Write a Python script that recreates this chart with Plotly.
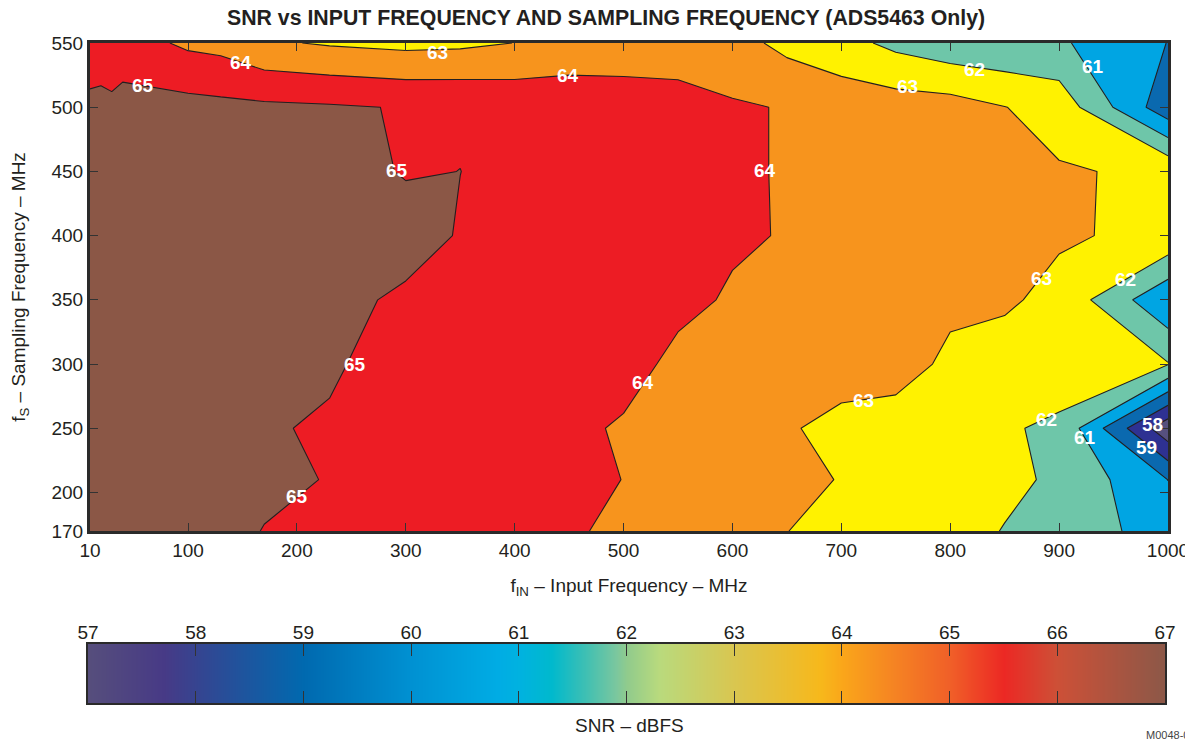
import plotly.graph_objects as go

# ---------------- data ----------------
fin_mhz = [10, 20, 30, 40, 100, 130, 170, 230, 300, 350, 400, 450, 500, 550,
           600, 650, 700, 750, 800, 850, 900, 1000]
fs_mhz = [170, 210, 250, 300, 350, 400, 450, 500, 550]

snr_fs170 = [65.6, 65.6, 65.6, 65.6, 65.45, 65.3, 64.97, 64.77, 64.55, 64.38, 64.22,
             64.06, 63.9, 63.65, 63.4, 63.01, 62.75, 62.5, 62.28, 61.97, 61.75, 60.45]
snr_fs210 = [65.6, 65.6, 65.6, 65.6, 65.5, 65.35, 65.2, 64.96, 64.7, 64.5, 64.35,
             64.2, 63.99, 63.75, 63.5, 63.25, 62.96, 62.75, 62.5, 62.16, 61.885, 59.99]
snr_fs250 = [65.6, 65.6, 65.6, 65.6, 65.45, 65.3, 65.12, 64.85, 64.7, 64.55, 64.4,
             64.2, 63.9, 63.6, 63.35, 63.07, 62.8, 62.55, 62.3, 62.1, 61.83, 57.3]
snr_fs300 = [65.7, 65.7, 65.7, 65.7, 65.6, 65.45, 65.3, 65.17, 64.43, 64.42, 64.4,
             64.37, 64.33, 63.79, 63.65, 63.45, 63.31, 63.415, 62.8, 62.6, 62.5, 62.05]
snr_fs350 = [65.7, 65.7, 65.7, 65.7, 65.6, 65.5, 65.4, 65.3, 64.825, 64.65, 64.5,
             64.4, 64.3, 64.21, 63.91, 63.7, 63.55, 63.4, 63.2, 63.13, 62.75, 60.16]
snr_fs400 = [65.7, 65.7, 65.7, 65.7, 65.7, 65.65, 65.6, 65.5, 65.42, 64.93, 64.7,
             64.5, 64.35, 64.25, 64.106, 63.955, 63.8, 63.6, 63.45, 63.3, 63.1, 62.79]
snr_fs450 = [65.6, 65.6, 65.6, 65.6, 65.6, 65.55, 65.5, 65.4, 64.93, 65.005, 64.75,
             64.5, 64.35, 64.2, 64.1, 63.95, 63.8, 63.6, 63.45, 63.3, 63.08, 62.85]
snr_fs500 = [65.2, 65.25, 65.16, 65.34, 65.33, 65.25, 65.18, 65.1, 64.95, 64.9, 64.75,
             64.6, 64.45, 64.3, 64.1, 63.95, 63.6, 63.5, 63.42, 63.02, 62.62, 59.34]
snr_fs550 = [64.5, 64.5, 64.5, 64.47, 63.82, 63.69, 63.14, 62.9, 62.74, 62.81, 63.01,
             63.4, 63.51, 63.6, 63.386, 62.72, 62.35, 61.75, 61.33, 61.18, 61.13, 59.98]

snr_rows = [snr_fs170, snr_fs210, snr_fs250, snr_fs300, snr_fs350,
            snr_fs400, snr_fs450, snr_fs500, snr_fs550]

x_ticks = [10, 100, 200, 300, 400, 500, 600, 700, 800, 900, 1000]
y_ticks = [170, 200, 250, 300, 350, 400, 450, 500, 550]
bar_ticks = [57, 58, 59, 60, 61, 62, 63, 64, 65, 66, 67]

# contour labels (text, fin, fs)
label_text = ["65", "64", "63", "64", "63", "62", "61", "65", "64", "65", "64",
              "63", "62", "63", "62", "61", "58", "59", "65"]
label_fin = [58.7, 148.7, 328.7, 449, 761, 822.7, 931, 292, 630, 253, 518,
             883.4, 961.4, 720, 888, 923.8, 986, 980.7, 200]
label_fs = [516.6, 534.5, 542.3, 524.4, 515.8, 529, 531.4, 450.4, 450.4, 299.3, 285.3,
            366.3, 365.5, 272, 257, 243.2, 252.6, 235.4, 196.5]

# ---------------- styles / layout geometry ----------------
FONT = "Liberation Sans, Arial, sans-serif"
TXT = "#231F20"
OFF = 8                      # page body margin of the html page
W, H = 1193 - OFF, 740 - OFF
ML, MR, MT, MB = 88 - OFF, 25, 43 - OFF, 37
PW, PH = W - ML - MR, H - MT - MB


def px_x(p):  # screen pixel column -> paper x
    return (p - OFF - ML) / PW


def px_y(p):  # screen pixel row -> paper y
    return (H - MB - (p - OFF)) / PH


# fill colour of each 1-dB band (index k -> band [56+k, 57+k])
band_colors = ['#4F4A7A', '#56507E', '#2E3192', '#0A69AF', '#00A5E3', '#6EC6A9',
               '#FFF200', '#F7941D', '#ED1C24', '#8B5746', '#8B5746']
fill_scale = [[i / 10, c] for i, c in enumerate(band_colors)]

bar_scale = [
    [0.00, '#564E7C'], [0.07, '#473A86'], [0.10, '#364490'], [0.20, '#0069AF'],
    [0.30, '#0091D2'], [0.38, '#00ACE4'], [0.40, '#00B2E0'], [0.43, '#00B9CD'],
    [0.46, '#3CBFB4'], [0.49, '#7BC79E'], [0.50, '#91CB8C'], [0.53, '#B9DA7D'],
    [0.60, '#D9C650'], [0.68, '#F7B81B'], [0.70, '#FAA61A'], [0.75, '#F58223'],
    [0.80, '#F05F28'], [0.85, '#EC2824'], [0.90, '#CD5037'], [1.00, '#8C5848'],
]

fig = go.Figure()

fig.add_trace(go.Contour(
    x=fin_mhz, y=fs_mhz, z=snr_rows,
    autocontour=False,
    contours=dict(start=57, end=66, size=1, coloring='fill', showlabels=False),
    colorscale=fill_scale, showscale=False,
    line=dict(color=TXT, width=1.1, smoothing=0),
    hoverinfo='skip', xaxis='x', yaxis='y',
))

# colour bar drawn as a smooth heat strip on its own axes
fig.add_trace(go.Heatmap(
    x=bar_ticks, y=[0, 1], z=[bar_ticks, bar_ticks], zmin=57, zmax=67,
    colorscale=bar_scale, zsmooth='best', showscale=False, hoverinfo='skip',
    xaxis='x2', yaxis='y2',
))

for t, xv, yv in zip(label_text, label_fin, label_fs):
    fig.add_annotation(x=xv, y=yv, xref='x', yref='y', text="<b>%s</b>" % t,
                       showarrow=False,
                       font=dict(family=FONT, size=19, color='white'),
                       xanchor='center', yanchor='middle')

fig.add_annotation(text="SNR – dBFS", xref='paper', yref='paper',
                   x=px_x(629), y=px_y(725), xanchor='center', yanchor='middle',
                   showarrow=False, font=dict(family=FONT, size=19, color=TXT))

fig.add_annotation(text="M0048-05", xref='paper', yref='paper',
                   x=px_x(1144), y=px_y(735), xanchor='left', yanchor='middle',
                   showarrow=False, font=dict(family=FONT, size=11, color='#444444'))

axis_common = dict(
    ticks='inside', ticklen=8, tickwidth=1.2, tickcolor='#333333',
    showline=True, linewidth=3, linecolor='#2A2A2A', mirror='ticks',
    showgrid=False, zeroline=False, automargin=False,
    tickfont=dict(family=FONT, size=19, color=TXT),
)

fig.update_layout(
    width=W, height=H, autosize=False,
    margin=dict(l=ML, r=MR, t=MT, b=MB),
    paper_bgcolor='white', plot_bgcolor='white',
    font=dict(family=FONT, size=19, color=TXT),
    title=dict(text="<b>SNR vs INPUT FREQUENCY AND SAMPLING FREQUENCY (ADS5463 Only)</b>",
               x=(606 - OFF) / W, xanchor='center', xref='container',
               y=1 - (18 - OFF) / H, yanchor='middle', yref='container',
               font=dict(family=FONT, size=21.3, color=TXT)),
    xaxis=dict(range=[10, 1000], tickvals=x_ticks, anchor='y',
               domain=[px_x(90), 1],
               title=dict(text='f<sub>IN</sub> – Input Frequency – MHz', standoff=19,
                          font=dict(family=FONT, size=19, color=TXT)),
               **axis_common),
    yaxis=dict(range=[170, 550], tickvals=y_ticks, anchor='x',
               domain=[px_y(531), 1],
               title=dict(text='f<sub>S</sub> – Sampling Frequency – MHz', standoff=21,
                          font=dict(family=FONT, size=19, color=TXT)),
               **axis_common),
    xaxis2=dict(range=[57, 67], tickvals=bar_ticks, anchor='y2', side='top',
                domain=[0, px_x(1165)],
                ticks='inside', ticklen=12, tickwidth=1.3, tickcolor='#333333',
                showline=True, linewidth=1.6, linecolor='#2A2A2A', mirror='ticks',
                showgrid=False, zeroline=False, automargin=False,
                ticklabelstandoff=-4,
                tickfont=dict(family=FONT, size=19, color=TXT)),
    yaxis2=dict(range=[0, 1], anchor='x2', domain=[0, px_y(644)],
                showticklabels=False, ticks='', showgrid=False, zeroline=False,
                showline=True, linewidth=1.6, linecolor='#2A2A2A', mirror=True,
                automargin=False),
)

fig.write_html("out.html")
